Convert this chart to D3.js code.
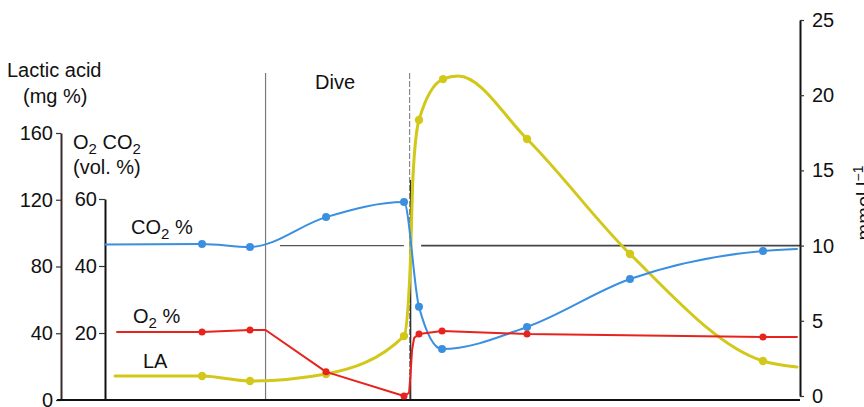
<!DOCTYPE html>
<html><head><meta charset="utf-8">
<script src="https://cdn.jsdelivr.net/npm/d3@7/dist/d3.min.js"></script>
<style>
body{margin:0;background:#fff;}
svg text{font-family:"Liberation Sans",Arial,Helvetica,sans-serif;fill:#111;}
</style></head><body>
<svg id="c" width="864" height="407"></svg>
<script>
// ---- data (time in arbitrary units: dive from 0 to 10) ----
const laTicks = [0, 40, 80, 120, 160];
const gasTicks = [20, 40, 60];
const mmolTicks = [0, 5, 10, 15, 20, 25];

const co2Time = [-11.15, -4.41, -1.08, 4.2, 9.61, 10.65, 12.25, 18.15, 25.3, 34.53, 36.89];
const co2Vals = [46.4, 46.6, 45.7, 54.6, 59.1, 27.8, 15.2, 21.8, 36.1, 44.5, 45.1];
const co2Dots = [1, 2, 3, 4, 5, 6, 7, 8, 9];

const o2Time = [-10.31, -4.41, -1.08, 0, 4.2, 9.61, 9.96, 10.06, 10.17, 10.31, 10.65, 12.25, 18.15, 34.53, 36.89];
const o2Vals = [20.3, 20.3, 20.9, 20.9, 8.4, 1.2, 2.1, 7.5, 14.9, 18.5, 19.7, 20.6, 19.7, 18.8, 18.8];
const o2Dots = [1, 2, 4, 5, 10, 11, 12, 13];

const laTime = [-10.45, -4.41, -1.08, 4.2, 9.61, 10.03, 10.24, 10.65, 12.32, 13.36, 18.15, 25.3, 34.53, 36.89];
const laVals = [14.4, 14.4, 11.4, 15.6, 38.3, 77.9, 134.8, 167.8, 192.3, 194.1, 156.4, 87.5, 23.4, 19.8];
const laDots = [1, 2, 3, 4, 7, 8, 10, 11, 12];

const diveStart = 0, diveEnd = 10;
const refMmol = 10;

// ---- scales ----
const svg = d3.select("#c");
const x = d3.scaleLinear().domain([-14.2, 37.1]).range([61, 800]);
const yLA = d3.scaleLinear().domain([0, 160]).range([400, 133]);
const yGas = d3.scaleLinear().domain([0, 60]).range([400, 199]);
const yMmol = d3.scaleLinear().domain([0, 25]).range([396, 20]);

const FS = 20;

// vertical dive lines
svg.append("line").attr("x1", x(diveStart)).attr("x2", x(diveStart)).attr("y1", 73).attr("y2", 400)
  .attr("stroke", "#7a7a7a").attr("stroke-width", 1.2);
svg.append("line").attr("x1", x(diveEnd)).attr("x2", x(diveEnd)).attr("y1", 73).attr("y2", 400)
  .attr("stroke", "#8a8a8a").attr("stroke-width", 1.2).attr("stroke-dasharray", "6,2");
svg.append("line").attr("x1", x(diveEnd) + 1).attr("x2", x(diveEnd) + 1).attr("y1", 180).attr("y2", 400)
  .attr("stroke", "#333").attr("stroke-width", 1.4);

// horizontal reference at 10 mmol
const yRef = yMmol(refMmol);
svg.append("line").attr("x1", x(1.0)).attr("x2", x(9.6)).attr("y1", yRef).attr("y2", yRef)
  .attr("stroke", "#555").attr("stroke-width", 1.4);
svg.append("line").attr("x1", x(10.8)).attr("x2", 800).attr("y1", yRef).attr("y2", yRef)
  .attr("stroke", "#444").attr("stroke-width", 1.6);

// axes
const axLA = svg.append("g").attr("transform", "translate(61,0)")
  .call(d3.axisLeft(yLA).tickValues(laTicks).tickSize(5).tickSizeOuter(0).tickPadding(3));
axLA.select(".domain").attr("stroke", "#3a2a2a").attr("stroke-width", 2);
axLA.selectAll(".tick line").attr("stroke", "#333").attr("stroke-width", 1.2);

const axGas = svg.append("g").attr("transform", "translate(105,0)")
  .call(d3.axisLeft(yGas).tickValues(gasTicks).tickSize(6).tickSizeOuter(0).tickPadding(2));
axGas.select(".domain").attr("stroke", "#111").attr("stroke-width", 2);
axGas.selectAll(".tick line").attr("stroke", "#333").attr("stroke-width", 1.2);

const axM = svg.append("g").attr("transform", "translate(800,0)")
  .call(d3.axisRight(yMmol).tickValues(mmolTicks).tickSize(4).tickSizeOuter(0).tickPadding(8));
axM.select(".domain").attr("stroke", "#111").attr("stroke-width", 2);
axM.selectAll(".tick line").attr("stroke", "#333").attr("stroke-width", 1.2);

[axLA, axGas, axM].forEach(a => a.selectAll("text")
  .attr("font-size", FS).attr("font-family", "Liberation Sans, Arial, sans-serif").attr("fill", "#111"));

// bottom axis line
svg.append("line").attr("x1", 57).attr("x2", 800).attr("y1", 400).attr("y2", 400)
  .attr("stroke", "#111").attr("stroke-width", 2.2);

// series
function drawSeries(times, vals, dots, yScale, color, width, r, curve) {
  const pts = times.map((t, i) => [x(t), yScale(vals[i])]);
  svg.append("path").attr("d", d3.line().curve(curve)(pts))
    .attr("fill", "none").attr("stroke", color).attr("stroke-width", width)
    .attr("stroke-linejoin", "round").attr("stroke-linecap", "round");
  svg.selectAll(null).data(dots).enter().append("circle")
    .attr("cx", i => pts[i][0]).attr("cy", i => pts[i][1]).attr("r", r).attr("fill", color);
}
drawSeries(laTime, laVals, laDots, yLA, "#d2c81a", 3, 4.2, d3.curveMonotoneX);
drawSeries(co2Time, co2Vals, co2Dots, yGas, "#3a8fe0", 2, 4, d3.curveMonotoneX);
drawSeries(o2Time, o2Vals, o2Dots, yGas, "#e8221c", 2, 3.5, d3.curveLinear);

// labels
function txt(xp, yp, parts, opts = {}) {
  const t = svg.append("text").attr("x", xp).attr("y", yp).attr("font-size", FS);
  if (opts.anchor) t.attr("text-anchor", opts.anchor);
  if (opts.transform) t.attr("transform", opts.transform);
  parts.forEach(p => {
    const s = t.append("tspan").text(p.t);
    if (p.sub) s.attr("font-size", 15).attr("dy", 5);
    if (p.up) s.attr("dy", -5);
    if (p.sup) s.attr("font-size", 14).attr("dy", -8);
  });
  return t;
}
txt(7, 77, [{t: "Lactic acid"}]);
txt(23, 103, [{t: "(mg %)"}]);
txt(73, 149, [{t: "O"}, {t: "2", sub: 1}, {t: " CO", up: 1}, {t: "2", sub: 1}]);
txt(73, 174, [{t: "(vol. %)"}]);
txt(131, 234, [{t: "CO"}, {t: "2", sub: 1}, {t: " %", up: 1}]);
txt(133, 323, [{t: "O"}, {t: "2", sub: 1}, {t: " %", up: 1}]);
txt(143, 368, [{t: "LA"}]);
txt(315, 89, [{t: "Dive"}]);
txt(0, 0, [{t: "mmol l"}, {t: "−1", sup: 1}], {anchor: "middle", transform: "translate(871,203) rotate(-90)"});
</script>
</body></html>
